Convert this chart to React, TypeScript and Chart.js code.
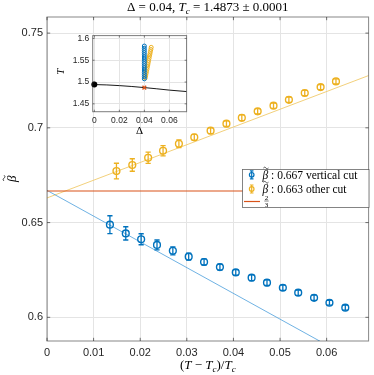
import React, { useEffect, useRef } from "react";
import { Chart, registerables } from "chart.js";
Chart.register(...registerables);

// ---------- main panel data ----------
const blueX = [0.0135, 0.0169, 0.0202, 0.0236, 0.027, 0.0304, 0.0337, 0.0371, 0.0405, 0.0439, 0.0472, 0.0506, 0.0539, 0.0573, 0.0606, 0.064];
const blueY = [0.6489, 0.6443, 0.6412, 0.6382, 0.6351, 0.632, 0.6292, 0.6265, 0.6237, 0.6209, 0.6183, 0.6156, 0.613, 0.6103, 0.6077, 0.6051];
const blueErr = [0.0047, 0.0035, 0.0029, 0.0026, 0.0021, 0.0018, 0.0016, 0.0016, 0.0015, 0.0015, 0.0015, 0.0014, 0.0014, 0.0014, 0.0013, 0.0013];
const orangeX = [0.0149, 0.0183, 0.0217, 0.0249, 0.0283, 0.0316, 0.0351, 0.0385, 0.0418, 0.0452, 0.0486, 0.0519, 0.0553, 0.0587, 0.062];
const orangeY = [0.6772, 0.6804, 0.6842, 0.6879, 0.6916, 0.695, 0.6985, 0.7022, 0.7053, 0.7087, 0.7117, 0.7148, 0.7184, 0.7215, 0.7245];
const orangeErr = [0.0041, 0.0033, 0.003, 0.0027, 0.002, 0.0016, 0.0015, 0.0015, 0.0015, 0.0014, 0.0014, 0.0014, 0.0014, 0.0013, 0.0013];
const blueFitX = [0, 0.069];
const blueFitY = [0.667, 0.5732];
const orangeFitX = [0, 0.069];
const orangeFitY = [0.663, 0.7276];
const twoThirdsX = [0, 0.069];
const twoThirdsY = [0.66667, 0.66667];
const xTicks = [0, 0.01, 0.02, 0.03, 0.04, 0.05, 0.06];
const yTicks = [0.6, 0.65, 0.7, 0.75];
const legendLabels = [" : 0.667 vertical cut", " : 0.663 other cut"];

// ---------- inset data ----------
const boundaryDelta = [0, 0.01, 0.02, 0.03, 0.04, 0.05, 0.06, 0.0738];
const boundaryT = [1.4942, 1.4934, 1.4918, 1.4898, 1.4873, 1.4845, 1.4815, 1.4782];
const tricritDelta = [0];
const tricritT = [1.4942];
const criticalDelta = [0.04];
const criticalT = [1.4873];
const insetBlueDelta = [0.04, 0.04, 0.04, 0.04, 0.04, 0.04, 0.04, 0.04, 0.04, 0.04, 0.04, 0.04, 0.04, 0.04, 0.04, 0.04];
const insetBlueT = [1.5074, 1.5124, 1.5173, 1.5224, 1.5275, 1.5325, 1.5374, 1.5425, 1.5475, 1.5526, 1.5575, 1.5626, 1.5675, 1.5725, 1.5774, 1.5825];
const insetOrangeDelta = [0.0407, 0.04105, 0.0414, 0.0417, 0.0421, 0.0424, 0.0428, 0.0431, 0.0434, 0.0438, 0.0441, 0.0445, 0.0448, 0.0452, 0.0455];
const insetOrangeT = [1.5095, 1.5145, 1.5196, 1.5243, 1.5294, 1.5343, 1.5395, 1.5446, 1.5495, 1.5545, 1.5596, 1.5645, 1.5695, 1.5746, 1.5795];
const insetXTicks = [0, 0.02, 0.04, 0.06];
const insetYTicks = [1.45, 1.5, 1.55, 1.6];

const BLUE = "#0072BD";
const ORANGE = "#EDB120";
const RED = "#D95319";
const SERIF = "'Liberation Serif', 'DejaVu Serif', serif";
const SANS = "'Liberation Sans', Arial, sans-serif";
const TXT = "#262626";

const pts = (xs: number[], ys: number[]) => xs.map((x, i) => ({ x, y: ys[i] }));
const fmt = (v: number) => String(parseFloat(v.toFixed(4)));

type Seg = { t: string; f: string; dy?: number };
function drawRich(ctx: CanvasRenderingContext2D, segs: Seg[], x: number, y: number, align: "center" | "left") {
  ctx.textBaseline = "alphabetic";
  ctx.textAlign = "left";
  let w = 0;
  for (const s of segs) { ctx.font = s.f; w += ctx.measureText(s.t).width; }
  let cx = align === "center" ? x - w / 2 : x;
  for (const s of segs) {
    ctx.font = s.f;
    ctx.fillText(s.t, cx, y + (s.dy || 0));
    cx += ctx.measureText(s.t).width;
  }
  return w;
}

function drawBetaTilde(ctx: CanvasRenderingContext2D, x: number, y: number, size: number) {
  ctx.font = `italic ${size}px ${SERIF}`;
  ctx.textAlign = "left";
  ctx.textBaseline = "alphabetic";
  ctx.fillText("β", x, y);
  const w = ctx.measureText("β").width;
  const tx = x + w * 0.6;
  const ty = y - size * 0.92;
  const hw = size * 0.22;
  const amp = size * 0.07;
  ctx.beginPath();
  ctx.lineWidth = Math.max(0.7, size * 0.06);
  for (let i = 0; i <= 10; i++) {
    const t = i / 10;
    const px = tx - hw + 2 * hw * t;
    const py = ty - amp * Math.sin(t * 2 * Math.PI);
    if (i === 0) ctx.moveTo(px, py); else ctx.lineTo(px, py);
  }
  ctx.stroke();
  return w;
}

function errIcon(ctx: CanvasRenderingContext2D, x: number, y: number, color: string) {
  ctx.strokeStyle = color;
  ctx.lineWidth = 1.2;
  ctx.beginPath();
  ctx.moveTo(x, y - 4); ctx.lineTo(x, y + 4);
  ctx.moveTo(x - 1.8, y - 4); ctx.lineTo(x + 1.8, y - 4);
  ctx.moveTo(x - 1.8, y + 4); ctx.lineTo(x + 1.8, y + 4);
  ctx.stroke();
  ctx.beginPath();
  ctx.arc(x, y, 2.3, 0, Math.PI * 2);
  ctx.stroke();
}

const mainPlugin = {
  id: "mainDecor",
  beforeDraw(chart: any) {
    const ctx = chart.ctx;
    ctx.save();
    ctx.fillStyle = "#fff";
    ctx.fillRect(0, 0, chart.width, chart.height);
    ctx.restore();
  },
  afterDatasetsDraw(chart: any) {
    const ctx = chart.ctx;
    const ys = chart.scales.y;
    const a = chart.chartArea;
    ctx.save();
    ctx.beginPath();
    ctx.rect(a.left, a.top, a.right - a.left, a.bottom - a.top);
    ctx.clip();
    const sets: [number, number[], number[], string][] = [
      [3, blueY, blueErr, BLUE],
      [4, orangeY, orangeErr, ORANGE],
    ];
    for (const [idx, vals, errs, color] of sets) {
      const meta = chart.getDatasetMeta(idx);
      ctx.strokeStyle = color;
      ctx.lineWidth = 1.3;
      meta.data.forEach((el: any, j: number) => {
        const x = el.x;
        const y1 = ys.getPixelForValue(vals[j] + errs[j]);
        const y2 = ys.getPixelForValue(vals[j] - errs[j]);
        ctx.beginPath();
        ctx.moveTo(x, y1); ctx.lineTo(x, y2);
        ctx.moveTo(x - 2.6, y1); ctx.lineTo(x + 2.6, y1);
        ctx.moveTo(x - 2.6, y2); ctx.lineTo(x + 2.6, y2);
        ctx.stroke();
      });
    }
    ctx.restore();
  },
  afterDraw(chart: any) {
    const ctx: CanvasRenderingContext2D = chart.ctx;
    const a = chart.chartArea;
    const xs = chart.scales.x;
    const ys = chart.scales.y;
    ctx.save();
    // frame
    ctx.strokeStyle = "rgba(38,38,38,0.55)";
    ctx.lineWidth = 1;
    ctx.strokeRect(a.left, a.top, a.right - a.left, a.bottom - a.top);
    // inner ticks
    ctx.strokeStyle = "rgba(38,38,38,0.8)";
    ctx.lineWidth = 0.8;
    ctx.beginPath();
    for (const v of xTicks) {
      const p = xs.getPixelForValue(v);
      ctx.moveTo(p, a.bottom); ctx.lineTo(p, a.bottom - 3.2);
      ctx.moveTo(p, a.top); ctx.lineTo(p, a.top + 3.2);
    }
    for (const v of yTicks) {
      const p = ys.getPixelForValue(v);
      ctx.moveTo(a.left, p); ctx.lineTo(a.left + 3.2, p);
      ctx.moveTo(a.right, p); ctx.lineTo(a.right - 3.2, p);
    }
    ctx.stroke();

    // title
    ctx.fillStyle = "#000";
    const cx = (a.left + a.right) / 2;
    drawRich(ctx, [
      { t: "Δ = 0.04, ", f: `13px ${SERIF}` },
      { t: "T", f: `italic 13px ${SERIF}` },
      { t: "c", f: `italic 9px ${SERIF}`, dy: 2.5 },
      { t: " = 1.4873 ± 0.0001", f: `13px ${SERIF}` },
    ], cx, 11, "center");

    // x label
    drawRich(ctx, [
      { t: "(", f: `13px ${SERIF}` },
      { t: "T", f: `italic 13px ${SERIF}` },
      { t: " − ", f: `13px ${SERIF}` },
      { t: "T", f: `italic 13px ${SERIF}` },
      { t: "c", f: `italic 9px ${SERIF}`, dy: 2.5 },
      { t: ")/", f: `13px ${SERIF}` },
      { t: "T", f: `italic 13px ${SERIF}` },
      { t: "c", f: `italic 9px ${SERIF}`, dy: 2.5 },
    ], cx, 369, "center");

    // y label
    ctx.save();
    ctx.translate(16, 178);
    ctx.rotate(-Math.PI / 2);
    ctx.fillStyle = "#000";
    ctx.strokeStyle = "#000";
    drawBetaTilde(ctx, -4, 0, 13);
    ctx.restore();

    // legend
    const lx = 242.5, ly = 169.5, lw = 126.5, lh = 38;
    ctx.fillStyle = "#fff";
    ctx.fillRect(lx, ly, lw, lh);
    ctx.strokeStyle = "rgba(38,38,38,0.7)";
    ctx.lineWidth = 0.8;
    ctx.strokeRect(lx, ly, lw, lh);
    const rows = [174.8, 189];
    const cols = [BLUE, ORANGE];
    rows.forEach((ry, i) => {
      errIcon(ctx, 251.7, ry, cols[i]);
      ctx.fillStyle = "#000";
      ctx.strokeStyle = "#000";
      const w = drawBetaTilde(ctx, 262.5, ry + 3.8, 11.5);
      ctx.font = `11.5px ${SERIF}`;
      ctx.textAlign = "left";
      ctx.fillText(legendLabels[i], 262.5 + w, ry + 3.8);
    });
    ctx.strokeStyle = RED;
    ctx.lineWidth = 1.2;
    ctx.beginPath();
    ctx.moveTo(244, 201.5); ctx.lineTo(260, 201.5);
    ctx.stroke();
    ctx.fillStyle = "#000";
    ctx.font = `7px ${SERIF}`;
    ctx.textAlign = "center";
    ctx.textBaseline = "alphabetic";
    ctx.fillText("2", 266.5, 199.5);
    ctx.fillText("3", 266.5, 206.8);
    ctx.strokeStyle = "#000";
    ctx.lineWidth = 0.5;
    ctx.beginPath();
    ctx.moveTo(264.3, 201); ctx.lineTo(268.7, 201);
    ctx.stroke();
    ctx.restore();
  },
};

const insetPlugin = {
  id: "insetDecor",
  beforeDatasetsDraw(chart: any) {},
  beforeDraw(chart: any) {
    const ctx = chart.ctx;
    const a = chart.chartArea;
    ctx.save();
    ctx.fillStyle = "#fff";
    ctx.fillRect(a.left, a.top, a.right - a.left, a.bottom - a.top);
    ctx.restore();
  },
  afterDraw(chart: any) {
    const ctx: CanvasRenderingContext2D = chart.ctx;
    const a = chart.chartArea;
    const xs = chart.scales.x;
    const ys = chart.scales.y;
    ctx.save();
    ctx.strokeStyle = "rgba(38,38,38,0.6)";
    ctx.lineWidth = 1;
    ctx.strokeRect(a.left, a.top, a.right - a.left, a.bottom - a.top);
    ctx.strokeStyle = "rgba(38,38,38,0.8)";
    ctx.lineWidth = 0.7;
    ctx.beginPath();
    for (const v of insetXTicks) {
      const p = xs.getPixelForValue(v);
      ctx.moveTo(p, a.bottom); ctx.lineTo(p, a.bottom - 2);
      ctx.moveTo(p, a.top); ctx.lineTo(p, a.top + 2);
    }
    for (const v of insetYTicks) {
      const p = ys.getPixelForValue(v);
      ctx.moveTo(a.left, p); ctx.lineTo(a.left + 2, p);
      ctx.moveTo(a.right, p); ctx.lineTo(a.right - 2, p);
    }
    ctx.stroke();
    ctx.fillStyle = "#000";
    ctx.font = `11px ${SERIF}`;
    ctx.textAlign = "center";
    ctx.textBaseline = "alphabetic";
    ctx.fillText("Δ", (a.left + a.right) / 2, 107);
    ctx.save();
    ctx.translate(9, 44.7);
    ctx.rotate(-Math.PI / 2);
    ctx.font = `italic 11px ${SERIF}`;
    ctx.textAlign = "center";
    ctx.fillText("T", 0, 0);
    ctx.restore();
    ctx.restore();
  },
};

export default function App() {
  const mainRef = useRef<HTMLCanvasElement>(null);
  const insetRef = useRef<HTMLCanvasElement>(null);

  useEffect(() => {
    const gridColor = "#e4e4e4";
    const main = new Chart(mainRef.current!, {
      type: "scatter",
      data: {
        datasets: [
          {
            label: "blue fit", data: pts(blueFitX, blueFitY), showLine: true, pointRadius: 0,
            borderColor: "rgba(77,160,220,0.9)", borderWidth: 0.9, order: 2, clip: 0,
          } as any,
          {
            label: "orange fit", data: pts(orangeFitX, orangeFitY), showLine: true, pointRadius: 0,
            borderColor: "rgba(240,200,100,0.95)", borderWidth: 0.9, order: 2, clip: 0,
          },
          {
            label: "2/3", data: pts(twoThirdsX, twoThirdsY), showLine: true, pointRadius: 0,
            borderColor: RED, borderWidth: 1.2, order: 1, clip: 0,
          },
          {
            label: "vertical cut", data: pts(blueX, blueY), pointRadius: 3.4, pointStyle: "circle",
            borderColor: BLUE, backgroundColor: "rgba(0,0,0,0)", borderWidth: 1.4, order: 0,
          },
          {
            label: "other cut", data: pts(orangeX, orangeY), pointRadius: 3.4, pointStyle: "circle",
            borderColor: ORANGE, backgroundColor: "rgba(0,0,0,0)", borderWidth: 1.4, order: 0,
          },
        ],
      },
      options: {
        animation: false,
        responsive: false,
        devicePixelRatio: 1,
        layout: { padding: { top: 17, right: 2, left: 0, bottom: 0 } },
        plugins: { legend: { display: false }, tooltip: { enabled: false }, title: { display: false } },
        scales: {
          x: {
            type: "linear", min: 0, max: 0.069,
            afterBuildTicks: (axis: any) => { axis.ticks = xTicks.map((v) => ({ value: v })); },
            afterFit: (axis: any) => { axis.height = 34; },
            ticks: { callback: (v: any) => fmt(Number(v)), font: { family: SANS, size: 11 }, color: TXT, padding: 5, maxRotation: 0 },
            grid: { color: gridColor, drawTicks: false },
            border: { display: false },
          },
          y: {
            type: "linear", min: 0.5875, max: 0.7585,
            afterBuildTicks: (axis: any) => { axis.ticks = yTicks.map((v) => ({ value: v })); },
            afterFit: (axis: any) => { axis.width = 47; },
            ticks: { callback: (v: any) => fmt(Number(v)), font: { family: SANS, size: 11 }, color: TXT, padding: 4 },
            grid: { color: gridColor, drawTicks: false },
            border: { display: false },
          },
        },
      },
      plugins: [mainPlugin],
    } as any);

    const inset = new Chart(insetRef.current!, {
      type: "scatter",
      data: {
        datasets: [
          {
            label: "boundary", data: pts(boundaryDelta, boundaryT), showLine: true, pointRadius: 0,
            borderColor: "#1a1a1a", borderWidth: 1, order: 3, clip: 0,
          } as any,
          {
            label: "tricritical", data: pts(tricritDelta, tricritT), pointRadius: 3, pointStyle: "circle",
            backgroundColor: "#000", borderColor: "#000", borderWidth: 0, order: 0, clip: false,
          },
          {
            label: "critical", data: pts(criticalDelta, criticalT), pointRadius: 2.6, pointStyle: "crossRot",
            borderColor: RED, borderWidth: 1.4, order: 0,
          },
          {
            label: "other cut", data: pts(insetOrangeDelta, insetOrangeT), pointRadius: 2, pointStyle: "circle",
            borderColor: ORANGE, backgroundColor: "rgba(0,0,0,0)", borderWidth: 1, order: 2,
          },
          {
            label: "vertical cut", data: pts(insetBlueDelta, insetBlueT), pointRadius: 2, pointStyle: "circle",
            borderColor: BLUE, backgroundColor: "rgba(0,0,0,0)", borderWidth: 1, order: 1,
          },
        ],
      },
      options: {
        animation: false,
        responsive: false,
        devicePixelRatio: 1,
        layout: { padding: { top: 4, right: 4.3, left: 0, bottom: 0 } },
        plugins: { legend: { display: false }, tooltip: { enabled: false }, title: { display: false } },
        scales: {
          x: {
            type: "linear", min: -0.0013, max: 0.0738,
            afterBuildTicks: (axis: any) => { axis.ticks = insetXTicks.map((v) => ({ value: v })); },
            afterFit: (axis: any) => { axis.height = 27.3; },
            ticks: { callback: (v: any) => fmt(Number(v)), font: { family: SANS, size: 8.5 }, color: TXT, padding: 4, maxRotation: 0 },
            grid: { color: gridColor, drawTicks: false },
            border: { display: false },
          },
          y: {
            type: "linear", min: 1.432, max: 1.6065,
            afterBuildTicks: (axis: any) => { axis.ticks = insetYTicks.map((v) => ({ value: v })); },
            afterFit: (axis: any) => { axis.width = 37.7; },
            ticks: { callback: (v: any) => fmt(Number(v)), font: { family: SANS, size: 8.5 }, color: TXT, padding: 3.5 },
            grid: { color: gridColor, drawTicks: false },
            border: { display: false },
          },
        },
      },
      plugins: [insetPlugin],
    } as any);

    return () => {
      main.destroy();
      inset.destroy();
    };
  }, []);

  return (
    <div style={{ position: "fixed", left: 0, top: 0, width: 374, height: 375, background: "#fff" }}>
      <canvas ref={mainRef} width={374} height={375} style={{ position: "absolute", left: 0, top: 0, width: 374, height: 375 }} />
      <canvas ref={insetRef} width={137} height={112} style={{ position: "absolute", left: 55, top: 27, width: 137, height: 112 }} />
    </div>
  );
}
